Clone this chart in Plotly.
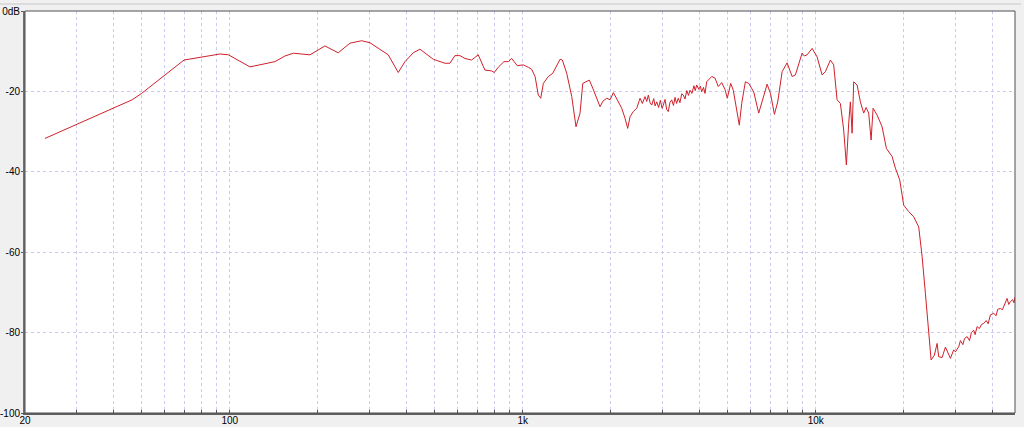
import math
import plotly.graph_objects as go

# Frequency response (Hz, dB)
freq_hz = [
    23.4, 46.4, 50.0, 69.8, 92.6, 99, 117.2, 142.6, 154.3, 164.8, 187.8, 211.3,
    234.6, 257.2, 281.9, 301, 347.5, 375.9, 396.2, 422.9, 445.8, 495, 542.6,
    564.3, 586.9, 610.4, 634.9, 669.2, 704.8, 743, 783.1, 799.3, 824.9, 862.7,
    892.4, 916.5, 957.8, 1005, 1045, 1073, 1102, 1130, 1152, 1176, 1223, 1266,
    1341, 1365, 1413, 1470, 1520, 1569, 1603, 1688, 1734, 1789, 1836, 1880,
    1936, 1987, 2039, 2103, 2177, 2235, 2282, 2324, 2385, 2450,
    2514, 2560, 2615, 2650, 2684, 2720, 2756, 2800, 2830, 2867, 2910, 2950,
    2990, 3019, 3060, 3100, 3140, 3180, 3225, 3270, 3310, 3350, 3396, 3440,
    3490, 3532, 3580, 3630, 3680, 3724, 3780, 3840, 3880, 3926, 3990, 4040,
    4082, 4140, 4190,
    4246, 4416, 4532, 4651, 4777, 4903, 4992, 5127, 5233, 5375, 5486, 5590,
    5755, 5906, 6143, 6391, 6564, 6827, 7007, 7231, 7420, 7681, 7989, 8309,
    8528, 8985, 9150, 9347, 9721, 10110, 10516, 10792, 11223, 11519, 11831,
    12142, 12462, 12729, 12962, 13136, 13313, 13481, 13846, 14210, 14584,
    14862, 15169, 15458, 15703, 16205, 16854, 17433, 18232, 18711, 19354,
    19973, 20773, 21606, 22473, 23082, 23685, 24308, 24771, 25423, 25968,
    26297, 27009, 27719, 28448, 28831, 29589, 30000, 30776, 31190, 31800,
    32200, 32874, 33500, 34000, 34623, 35000, 35562, 36200, 36800, 37454,
    38200, 38800, 39475, 40511, 41300, 41800, 42700, 43400, 44412, 45000,
    45600, 46192, 47000, 47500, 47900,
]
level_db = [
    -31.7, -22.1, -20.5, -12.2, -10.7, -10.9, -13.9, -12.6, -11.2, -10.5, -10.9, -8.7,
    -10.4, -8.0, -7.4, -7.9, -10.9, -15.3, -12.6, -10.4, -9.5, -12.0, -13.0,
    -13.0, -11.1, -11.1, -11.8, -12.2, -10.9, -14.7, -14.9, -15.3, -14.0, -12.6,
    -12.6, -11.8, -13.6, -13.4, -14.0, -14.5, -16.3, -20.9, -21.7, -18.0, -16.3, -15.5,
    -12.0, -12.2, -15.5, -21.3, -28.8, -25.4, -18.0, -17.2, -19.2, -21.7, -23.8, -22.4,
    -21.7, -22.1, -20.3, -22.1, -24.2, -26.7, -29.2, -26.3, -25.0, -24.2,
    -21.7, -23.0, -21.3, -22.5, -20.9, -22.8, -23.4, -21.8, -23.6, -22.6, -24.0, -22.2,
    -24.2, -23.4, -22.0, -24.5, -25.0, -22.8, -22.1, -23.5, -21.5, -23.0, -21.7, -22.8,
    -20.6, -20.9, -21.9, -19.8, -21.0, -19.7, -20.5, -18.6, -19.8, -18.4, -19.5, -18.7,
    -20.1, -19.0, -20.5,
    -17.6, -16.3, -16.7, -18.8, -17.8, -19.5, -21.7, -18.0, -19.7, -24.2, -28.4, -23.0,
    -17.6, -18.0, -20.1, -25.4, -22.6, -18.2, -20.5, -25.7, -22.6, -15.1, -12.9, -16.3,
    -15.9, -10.5, -11.2, -10.9, -9.3, -11.4, -15.9, -15.1, -12.2, -13.4, -22.1,
    -23.0, -29.6, -38.3, -27.9, -22.6, -30.4, -17.6, -18.4, -22.6, -25.4,
    -24.0, -25.4, -32.1, -24.2, -25.9, -28.8, -34.2, -36.2, -39.1, -42.0,
    -48.3, -49.9, -51.2, -53.7, -61.1, -70.2, -80.2, -86.8, -85.6, -82.7,
    -86.0, -86.2, -83.6, -85.6, -86.4, -84.3, -84.8, -83.5, -82.0, -83.0,
    -81.5, -81.0, -82.0, -80.0, -79.4, -80.5, -78.5, -79.0, -78.0, -77.7,
    -77.0, -77.8, -75.6, -75.2, -75.8, -74.2, -74.0, -74.3, -72.3, -71.5,
    -73.0, -72.3, -71.8, -72.6, -71.1,
]

major_ticks = {20: "20", 100: "100", 1000: "1k", 10000: "10k"}
x_grid = [m * 10 ** e for e in range(1, 5) for m in range(1, 10)]
x_grid = [v for v in x_grid if 20 <= v <= 47900]
x_text = [major_ticks.get(v, "") for v in x_grid]

y_ticks = [0, -20, -40, -60, -80, -100]
y_text = ["0dB", "-20", "-40", "-60", "-80", "-100"]

fig = go.Figure()
fig.add_trace(go.Scatter(
    x=freq_hz, y=level_db, mode="lines",
    line=dict(color="#d0202a", width=1),
    hoverinfo="skip", showlegend=False,
))

grid_col = "#c9c9f2"
fig.update_layout(
    width=1024, height=427,
    margin=dict(l=25, r=9, t=11, b=14),
    paper_bgcolor="#f0f0f0",
    plot_bgcolor="#ffffff",
    font=dict(family="Liberation Sans, Arial, sans-serif", size=11, color="#000000"),
    xaxis=dict(
        type="log", range=[math.log10(20), math.log10(47900)],
        tickmode="array", tickvals=x_grid, ticktext=x_text,
        showgrid=True, gridcolor=grid_col, griddash="3px,3px", gridwidth=1,
        ticks="inside", ticklen=3, tickcolor="#555555",
        showline=True, linecolor="#606060", linewidth=2, mirror=False,
        zeroline=False, automargin=False, ticklabelstandoff=-3,
        tickfont=dict(size=10),
    ),
    yaxis=dict(
        range=[-100, 0], tickmode="array", tickvals=y_ticks, ticktext=y_text,
        showgrid=True, gridcolor=grid_col, griddash="3px,3px", gridwidth=1,
        ticks="outside", ticklen=2, tickcolor="#555555",
        showline=True, linecolor="#707070", linewidth=2, mirror=False,
        zeroline=False, automargin=False, ticklabelstandoff=-1,
        tickfont=dict(size=10),
    ),
    shapes=[
        dict(type="rect", xref="paper", yref="paper", x0=0, x1=1, y0=0, y1=1,
             line=dict(color="#505050", width=1), fillcolor="rgba(0,0,0,0)", layer="above"),
        dict(type="line", xref="paper", yref="paper",
             x0=-25 / 990, x1=1 + 6 / 990, y0=1 + 7 / 402, y1=1 + 7 / 402,
             line=dict(color="#c8c8c8", width=1)),
    ],
)

fig.write_html(
    "out.html",
    config={"displayModeBar": False},
    post_script="document.body.style.margin='0';document.body.style.background='#f0f0f0';",
)
